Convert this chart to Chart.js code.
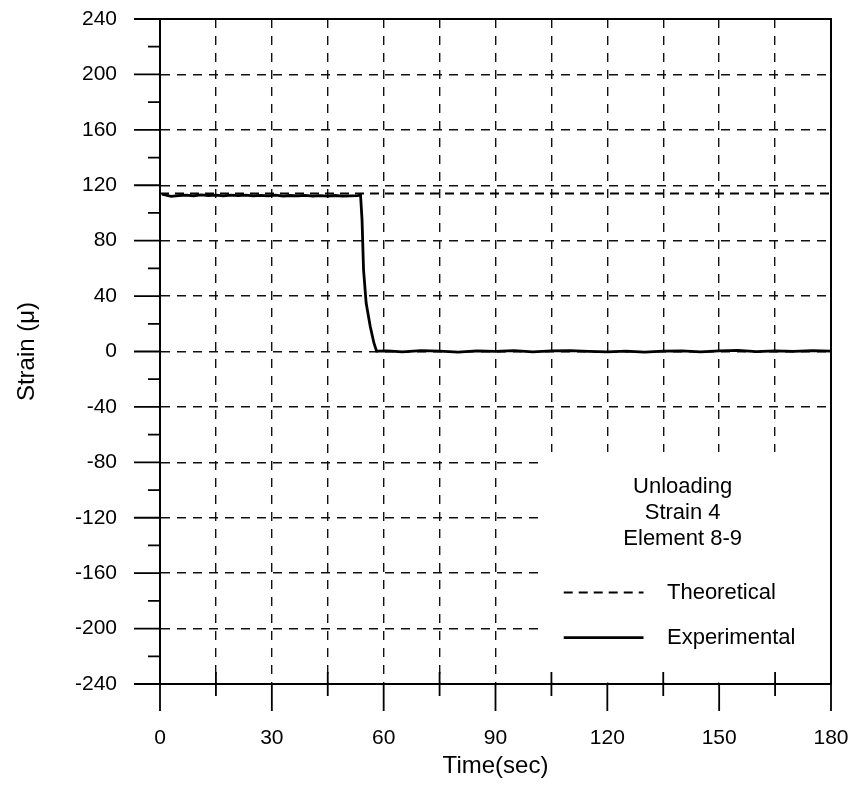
<!DOCTYPE html>
<html>
<head>
<meta charset="utf-8">
<script src="https://cdn.jsdelivr.net/npm/chart.js@4"></script>
<style>
  html, body { margin: 0; padding: 0; background: #fff; }
  #wrap { width: 860px; height: 786px; }
</style>
</head>
<body>
<div id="wrap"><canvas id="chart" width="860" height="786"></canvas></div>
<script>
// theoretical strain (constant line)
const thTime = [0, 180]
const thStrain = [114, 114]

// experimental strain
const expTime = [
  0.5, 3, 5, 7, 9, 11, 13, 15, 17, 19, 21, 23, 25, 27, 29, 31, 33, 35, 37, 39, 41, 43, 45, 47, 49, 51, 53,
  53.8, 54.2, 54.6, 55.3, 56.4, 57.4, 58.1,
  61, 65, 70, 75, 80, 85, 90, 95, 100, 105, 110, 115, 120, 125, 130, 135, 140, 145, 150, 155, 160, 165, 170, 175, 180
]
const expStrain = [
  113.5, 112.0, 112.5, 112.8, 112.3, 113.0, 112.6, 112.9, 112.4, 112.8, 112.5, 112.9, 112.3, 112.7, 112.4, 112.8,
  112.2, 112.6, 112.3, 112.7, 112.2, 112.5, 112.2, 112.6, 112.1, 112.4, 112.5,
  112.8, 95, 59, 35, 18, 6, 0.3,
  0.5, -0.3, 0.6, 0.2, -0.4, 0.5, 0.1, 0.6, -0.2, 0.4, 0.7, 0.1, -0.3, 0.3, -0.4, 0.2, 0.5, -0.2, 0.4, 0.8,
  -0.1, 0.5, 0.1, 0.6, 0.2
]

const xTicks = { min: 0, max: 180, step: 15, labelEvery: 30 }
const yTicks = { min: -240, max: 240, step: 20, labelEvery: 40 }

const noteLines = ['Unloading', 'Strain 4', 'Element 8-9']
const seriesNames = ['Theoretical', 'Experimental']

const FONT = '"Liberation Sans", Arial, sans-serif'
const INK = '#000'

const toPoints = (xs, ys) => xs.map((x, i) => ({ x, y: ys[i] }))

// grid lines only on labelled values, not on the frame edges
const gridColor = (cfg) => (ctx) => {
  const v = ctx.tick ? ctx.tick.value : null
  if (v === null || v === cfg.min || v === cfg.max) return 'rgba(0,0,0,0)'
  return v % cfg.gridEvery === 0 ? '#111' : 'rgba(0,0,0,0)'
}

// keep the plot box where the layout padding puts it
const noScalePadding = (size) => (s) => {
  Object.assign(s, size)
  s.paddingTop = 0
  s.paddingBottom = 0
  s.paddingLeft = 0
  s.paddingRight = 0
}

const framePlugin = {
  id: 'frame',
  beforeDatasetsDraw(chart) {
    // blank area behind the note and legend
    const { ctx, chartArea, scales: { x, y } } = chart
    const left = x.getPixelForValue(102.7)
    const top = y.getPixelForValue(-72.5)
    ctx.save()
    ctx.fillStyle = '#fff'
    ctx.fillRect(left, top, chartArea.right - left - 1, chartArea.bottom - top - 1.5)
    ctx.restore()
  },
  afterDatasetsDraw(chart) {
    const { ctx, chartArea: a, scales: { x, y } } = chart
    ctx.save()
    ctx.strokeStyle = INK
    ctx.lineWidth = 2
    ctx.beginPath()
    ctx.moveTo(a.left, a.top)
    ctx.lineTo(a.right, a.top)
    ctx.lineTo(a.right, a.bottom)
    ctx.stroke()

    // tick marks
    ctx.lineWidth = 1.8
    ctx.beginPath()
    y.ticks.forEach(t => {
      const py = y.getPixelForValue(t.value)
      const len = t.value % yTicks.labelEvery === 0 ? 26 : 12
      ctx.moveTo(a.left - len, py)
      ctx.lineTo(a.left, py)
    })
    x.ticks.forEach(t => {
      const px = x.getPixelForValue(t.value)
      if (t.value % xTicks.labelEvery === 0) {
        ctx.moveTo(px, a.bottom)
        ctx.lineTo(px, a.bottom + 27)
      } else {
        ctx.moveTo(px, a.bottom - 12)
        ctx.lineTo(px, a.bottom + 12)
      }
    })
    ctx.stroke()

    // note text
    ctx.fillStyle = INK
    ctx.font = '22px ' + FONT
    ctx.textAlign = 'center'
    ctx.textBaseline = 'middle'
    const cx = x.getPixelForValue(140.2)
    const ny = y.getPixelForValue(-98)
    noteLines.forEach((s, i) => ctx.fillText(s, cx, ny + i * 26))

    // legend
    const lx0 = x.getPixelForValue(108.3)
    const lx1 = x.getPixelForValue(129.7)
    const tx = x.getPixelForValue(136)
    const rows = [y.getPixelForValue(-174), y.getPixelForValue(-206.5)]
    chart.data.datasets.forEach((ds, i) => {
      ctx.beginPath()
      ctx.lineWidth = ds.borderWidth
      ctx.setLineDash(ds.borderDash || [])
      ctx.moveTo(lx0, rows[i])
      ctx.lineTo(lx1, rows[i])
      ctx.stroke()
      ctx.setLineDash([])
      ctx.textAlign = 'left'
      ctx.fillText(ds.label, tx, rows[i])
    })
    ctx.restore()
  }
}

new Chart(document.getElementById('chart'), {
  type: 'line',
  data: {
    datasets: [
      {
        label: seriesNames[0],
        data: toPoints(thTime, thStrain),
        borderColor: INK,
        borderWidth: 2,
        borderDash: [9, 6],
        pointRadius: 0,
        fill: false
      },
      {
        label: seriesNames[1],
        data: toPoints(expTime, expStrain),
        borderColor: INK,
        borderWidth: 2.8,
        pointRadius: 0,
        tension: 0,
        fill: false
      }
    ]
  },
  options: {
    responsive: false,
    animation: false,
    events: [],
    layout: { padding: { top: 19, right: 29, left: 0, bottom: 0 } },
    plugins: {
      legend: { display: false },
      tooltip: { enabled: false }
    },
    scales: {
      x: {
        type: 'linear',
        min: xTicks.min,
        max: xTicks.max,
        afterFit: noScalePadding({ height: 102 }),
        grid: {
          color: gridColor({ min: xTicks.min, max: xTicks.max, gridEvery: xTicks.step }),
          lineWidth: 1.4,
          drawTicks: false
        },
        border: { display: true, color: INK, width: 2, dash: [9, 8] },
        ticks: {
          stepSize: xTicks.step,
          autoSkip: false,
          maxRotation: 0,
          padding: 42,
          color: INK,
          font: { family: FONT, size: 21 },
          callback: (v) => (v % xTicks.labelEvery === 0 ? String(v) : '')
        },
        title: {
          display: true,
          text: 'Time(sec)',
          color: INK,
          font: { family: FONT, size: 24 },
          padding: { top: 0, bottom: 5 }
        }
      },
      y: {
        type: 'linear',
        min: yTicks.min,
        max: yTicks.max,
        afterFit: noScalePadding({ width: 160 }),
        grid: {
          color: gridColor({ min: yTicks.min, max: yTicks.max, gridEvery: yTicks.labelEvery }),
          lineWidth: 1.4,
          drawTicks: false
        },
        border: { display: true, color: INK, width: 2, dash: [9, 7] },
        ticks: {
          stepSize: yTicks.step,
          autoSkip: false,
          padding: 43,
          color: INK,
          font: { family: FONT, size: 21 },
          callback: (v) => (v % yTicks.labelEvery === 0 ? String(v) : '')
        },
        title: {
          display: true,
          text: 'Strain (\u03bc)',
          color: INK,
          font: { family: FONT, size: 24 },
          padding: { top: 13, bottom: 0 }
        }
      }
    }
  },
  plugins: [framePlugin]
})
</script>
</body>
</html>
